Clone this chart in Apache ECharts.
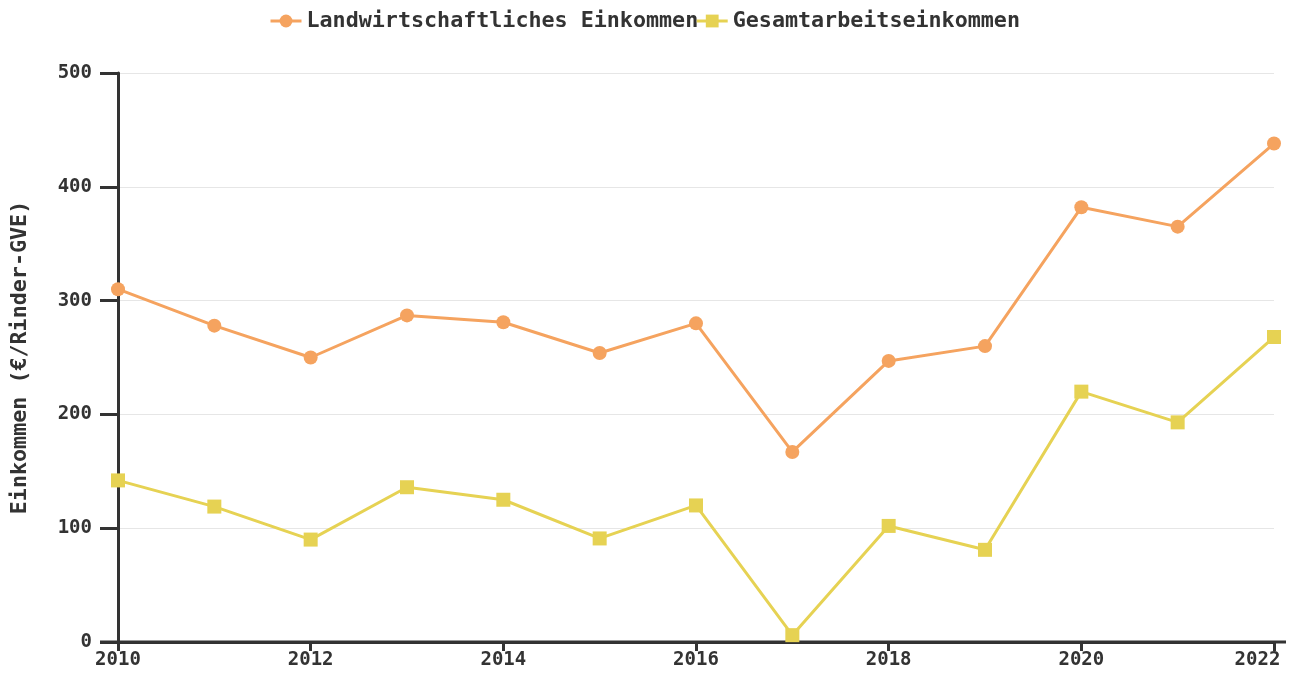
<!DOCTYPE html>
<html>
<head>
<meta charset="utf-8">
<script src="https://cdn.jsdelivr.net/npm/echarts@6/dist/echarts.min.js"></script>
<style>
  html, body { margin: 0; padding: 0; background: #fff; }
  #chart { width: 1295px; height: 680px; }
</style>
</head>
<body>
<div id="chart"></div>
<script>
// Daten
const years = [2010, 2011, 2012, 2013, 2014, 2015, 2016, 2017, 2018, 2019, 2020, 2021, 2022];
const landwirtschaftlich = [310, 278, 250, 287, 281, 254, 280, 167, 247, 260, 382, 365, 438];
const gesamtarbeit = [142, 119, 90, 136, 125, 91, 120, 6, 102, 81, 220, 193, 268];

const font = 'DejaVu Sans Mono';
const gridLeft = 118, gridRight = 21, gridTop = 73, gridBottom = 38;
const tickFont = { fontFamily: font, fontSize: 19, fontWeight: 'bold', color: '#333' };

const chart = echarts.init(document.getElementById('chart'));
chart.setOption({
    animation: false,
    textStyle: { fontFamily: font },
    legend: {
        top: 5,
        left: 264,
        itemWidth: 31,
        itemHeight: 16,
        itemGap: -3,
        lineStyle: { width: 3 },
        textStyle: { fontFamily: font, fontSize: 21.7, fontWeight: 'bold', color: '#333' },
        data: ['Landwirtschaftliches Einkommen', 'Gesamtarbeitseinkommen']
    },
    grid: { left: gridLeft, right: gridRight, top: gridTop, bottom: gridBottom, outerBoundsMode: 'none' },
    // x-Achse ragt im Original etwas über den Plotbereich hinaus
    graphic: [{
        type: 'line',
        z: 1,
        shape: { x1: gridLeft - 18, y1: 680 - gridBottom, x2: 1295 - gridRight + 12, y2: 680 - gridBottom },
        style: { stroke: '#333', lineWidth: 3 }
    }],
    xAxis: {
        type: 'value',
        min: 2010,
        max: 2022,
        interval: 2,
        splitLine: { show: false },
        axisLine: { lineStyle: { color: '#333', width: 3 } },
        axisTick: { show: true, length: 9, lineStyle: { color: '#333', width: 3 } },
        axisLabel: Object.assign({}, tickFont, {
            margin: 9,
            // letzte Beschriftung ist im Original nach links gerückt
            formatter: v => v === 2022 ? '{last|' + v + '}' : String(v),
            rich: { last: Object.assign({}, tickFont, { padding: [0, 33, 0, 0] }) }
        })
    },
    yAxis: {
        type: 'value',
        min: 0,
        max: 500,
        interval: 100,
        name: 'Einkommen (€/Rinder-GVE)',
        nameLocation: 'middle',
        nameGap: 87,
        nameTextStyle: { fontFamily: font, fontSize: 21.7, fontWeight: 'bold', color: '#333' },
        axisLine: { show: true, lineStyle: { color: '#333', width: 3 } },
        axisTick: { show: true, length: 18, lineStyle: { color: '#333', width: 3 } },
        axisLabel: Object.assign({}, tickFont, { margin: 26 }),
        splitLine: { lineStyle: { color: '#e6e6e6', width: 1 } }
    },
    series: [
        {
            name: 'Landwirtschaftliches Einkommen',
            type: 'line',
            data: years.map((y, i) => [y, landwirtschaftlich[i]]),
            symbol: 'circle',
            symbolSize: 14,
            itemStyle: { color: '#f5a35f' },
            lineStyle: { color: '#f5a35f', width: 3 }
        },
        {
            name: 'Gesamtarbeitseinkommen',
            type: 'line',
            data: years.map((y, i) => [y, gesamtarbeit[i]]),
            symbol: 'rect',
            symbolSize: 14,
            itemStyle: { color: '#e6d253' },
            lineStyle: { color: '#e6d253', width: 3 }
        }
    ]
});
</script>
</body>
</html>
